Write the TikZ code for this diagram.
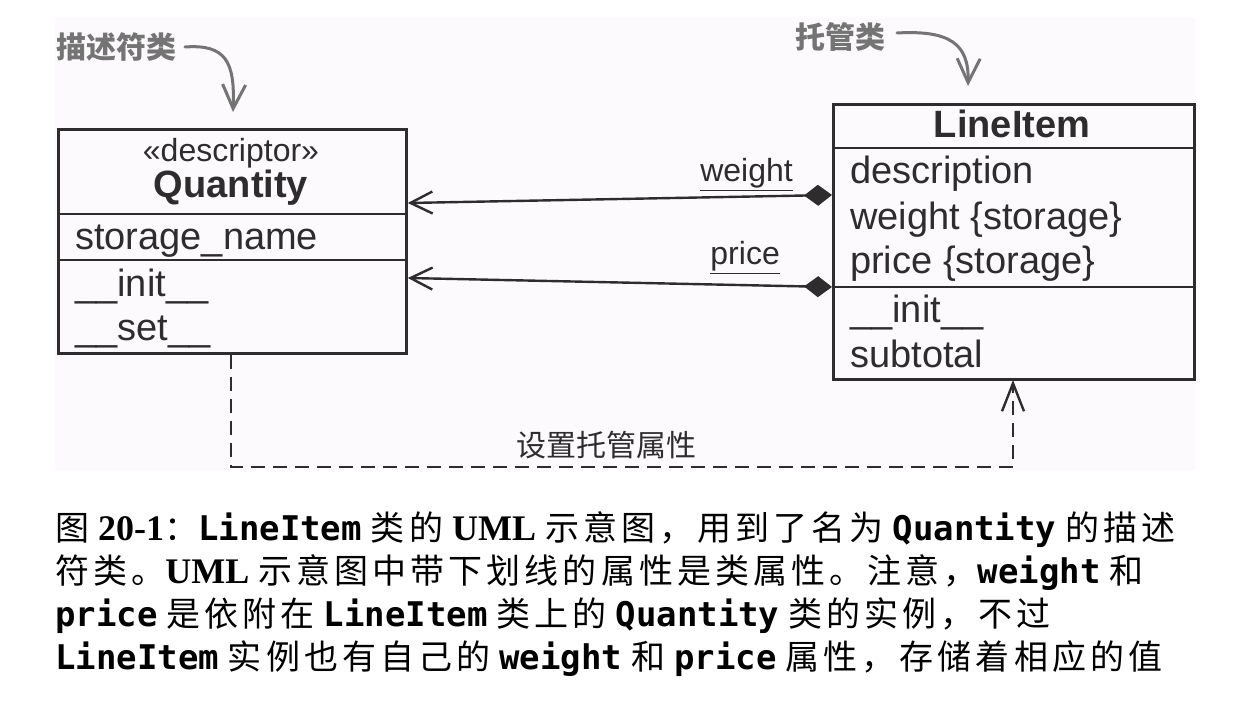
\documentclass[tikz,border=0pt]{standalone}
\usepackage{fontspec}
\setmainfont{Liberation Sans}
\newfontfamily\cjk{Noto Sans CJK SC}
\newfontfamily\cjkcap[LetterSpace=12]{Noto Sans CJK SC}
\newfontfamily\capmono{DejaVu Sans Mono}
\newfontfamily\capserif{Liberation Serif}
\usetikzlibrary{arrows.meta}
\definecolor{ink}{HTML}{2E2C2D}
\definecolor{annogray}{HTML}{747474}
\definecolor{bgc}{HTML}{FCFAFC}
\newcommand\mycode[1]{{\capmono\bfseries #1}}
\newcommand\myserif[1]{{\capserif\fontsize{36}{36}\selectfont\bfseries #1}}
\newcommand\cjkgap{\hspace{9pt}}
\tikzset{
  umlbox/.style={draw=ink, line width=2.8pt, inner sep=0pt, anchor=north west},
  divider/.style={draw=ink, line width=2.8pt},
  title/.style={anchor=base, inner sep=0pt, text=ink, font=\fontsize{38}{38}\selectfont\bfseries},
  stereo/.style={anchor=base, inner sep=0pt, text=ink, font=\fontsize{32}{32}\selectfont},
  member/.style={anchor=base west, inner sep=0pt, text=ink, font=\fontsize{38}{38}\selectfont},
  rolelabel/.style={anchor=base east, inner sep=0pt, text=ink, font=\fontsize{32}{32}\selectfont},
  assoc/.style={draw=ink, line width=2.4pt, {Diamond[length=28pt,width=21pt]}-{Straight Barb[length=22pt,width=22pt]}},
  dep/.style={draw=ink, line width=2.4pt, dash pattern=on 14pt off 8pt, -{Straight Barb[length=28pt,width=22pt]}},
  anno/.style={draw=annogray, line width=3pt, line cap=round, -{Straight Barb[length=24pt,width=23pt]}},
  annotext/.style={inner sep=0pt, text=annogray, font=\cjk\fontsize{30}{30}\selectfont\bfseries},
  caption/.style={anchor=base west, inner sep=0pt, text=black, font=\cjkcap\fontsize{34}{34}\selectfont},
}
\begin{document}
\begin{tikzpicture}[x=1pt,y=-1pt]
\useasboundingbox (0,0) rectangle (1246,708);
\fill[white] (0,0) rectangle (1246,708);
\fill[bgc] (55,18) rectangle (1195,470);

% Quantity box
\node[umlbox, minimum width=348pt, minimum height=224pt] (Q) at (57,128) {};
\draw[divider] (Q.west |- 0,214) -- (Q.east |- 0,214);
\draw[divider] (Q.west |- 0,260) -- (Q.east |- 0,260);
\node[stereo] (qstereo) at (231,162) {«descriptor»};
\node[title] (qtitle) at (231,198) {Quantity};
\node[member] (qstor) at (75,250) {storage\_name};
\node[member] (qinit) at (75,297) {\_\_init\_\_};
\node[member] (qset) at (75,340) {\_\_set\_\_};

% LineItem box
\node[umlbox, minimum width=361pt, minimum height=275pt] (L) at (832,103) {};
\draw[divider] (L.west |- 0,148) -- (L.east |- 0,148);
\draw[divider] (L.west |- 0,287) -- (L.east |- 0,287);
\node[title] (ltitle) at (1012,138) {LineItem};
\node[member] (ldesc) at (850,184) {description};
\node[member] (lweight) at (850,230) {weight \{storage\}};
\node[member] (lprice) at (850,274) {price \{storage\}};
\node[member] (linit) at (850,322) {\_\_init\_\_};
\node[member] (lsub) at (850,367) {subtotal};

% associations
\coordinate (Lw) at (L.west |- 0,195);
\coordinate (Qw) at (Q.east |- 0,203);
\coordinate (Lp) at (L.west |- 0,287);
\coordinate (Qp) at (Q.east |- 0,278);
\draw[assoc] (Lw) -- (Qw);
\draw[assoc] (Lp) -- (Qp);
\node[rolelabel] (wlab) at (793,182) {\underline{weight}};
\node[rolelabel] (plab) at (780,265) {\underline{price}};

% dependency
\coordinate (d1) at (231,467);
\coordinate (d2) at (1013,467);
\coordinate (dtip) at (1013,380);
\draw[dep] (Q.south -| d1) -- (d1) -- (d2) -- (dtip);
\node[inner sep=0pt, text=ink, font=\cjk\fontsize{30}{30}\selectfont] (dlab) at (606,445) {设置托管属性};

% annotations
\node[annotext, anchor=east] (a1) at (177,47) {描述符类};
\coordinate (a1tip) at (233,112);
\draw[anno] (a1.east) ++(8,0) .. controls (226,44) and (235,62) .. (a1tip);
\node[annotext, anchor=east] (a2) at (886,37) {托管类};
\coordinate (a2tip) at (968,86);
\draw[anno] (a2.east) ++(11,-4) .. controls (950,30) and (969,44) .. (a2tip);

% caption
\node[caption] (c1) at (55,540) {图\cjkgap\myserif{20-1}：\mycode{LineItem}\cjkgap 类的\cjkgap\myserif{UML}\cjkgap 示意图，用到了名为\cjkgap\mycode{Quantity}\cjkgap 的描述};
\node[caption] (c2) at (55,583) {符类。\myserif{UML}\cjkgap 示意图中带下划线的属性是类属性。注意，\mycode{weight}\cjkgap 和};
\node[caption] (c3) at (55,626) {\mycode{price}\cjkgap 是依附在\cjkgap\mycode{LineItem}\cjkgap 类上的\cjkgap\mycode{Quantity}\cjkgap 类的实例，不过};
\node[caption] (c4) at (55,669) {\mycode{LineItem}\cjkgap 实例也有自己的\cjkgap\mycode{weight}\cjkgap 和\cjkgap\mycode{price}\cjkgap 属性，存储着相应的值};
\end{tikzpicture}
\end{document}
